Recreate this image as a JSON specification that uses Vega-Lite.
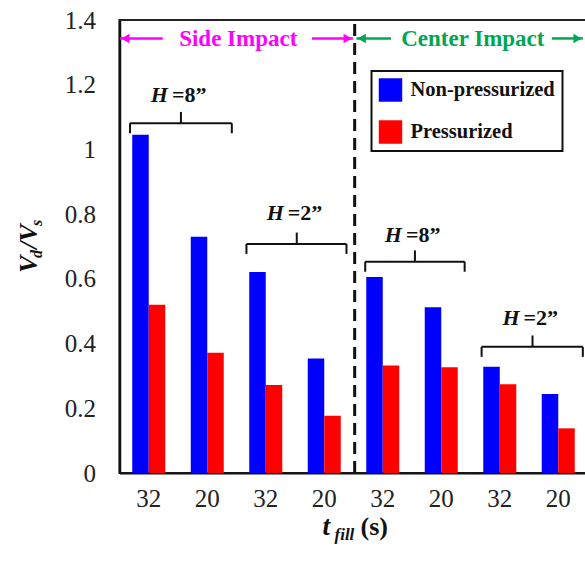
{
  "$schema": "https://vega.github.io/schema/vega-lite/v6.json",
  "width": 468,
  "height": 453,
  "autosize": {"type": "none"},
  "padding": {"left": 119.5, "top": 20, "right": 0, "bottom": 92},
  "background": "white",
  "config": {
    "view": {"stroke": "#222", "strokeWidth": 2},
    "font": "Liberation Serif",
    "legend": {
      "orient": "none",
      "legendX": 252,
      "legendY": 51,
      "direction": "vertical",
      "symbolType": "square",
      "symbolSize": 550,
      "symbolStrokeWidth": 0,
      "symbolOpacity": 1,
      "labelFont": "Liberation Serif",
      "labelFontSize": 20.5,
      "labelFontWeight": "bold",
      "labelColor": "#111",
      "labelOffset": 8,
      "rowPadding": 18,
      "padding": 7,
      "strokeColor": "#111",
      "strokeWidth": 2,
      "fillColor": "white"
    }
  },
  "datasets": {
    "bars": [
      {"grp": "S8-32", "impact": "Side", "H": 8, "tfill": 32, "series": "Non-pressurized", "value": 1.045},
      {"grp": "S8-32", "impact": "Side", "H": 8, "tfill": 32, "series": "Pressurized", "value": 0.52},
      {"grp": "S8-20", "impact": "Side", "H": 8, "tfill": 20, "series": "Non-pressurized", "value": 0.73},
      {"grp": "S8-20", "impact": "Side", "H": 8, "tfill": 20, "series": "Pressurized", "value": 0.372},
      {"grp": "S2-32", "impact": "Side", "H": 2, "tfill": 32, "series": "Non-pressurized", "value": 0.621},
      {"grp": "S2-32", "impact": "Side", "H": 2, "tfill": 32, "series": "Pressurized", "value": 0.272},
      {"grp": "S2-20", "impact": "Side", "H": 2, "tfill": 20, "series": "Non-pressurized", "value": 0.354},
      {"grp": "S2-20", "impact": "Side", "H": 2, "tfill": 20, "series": "Pressurized", "value": 0.177},
      {"grp": "C8-32", "impact": "Center", "H": 8, "tfill": 32, "series": "Non-pressurized", "value": 0.606},
      {"grp": "C8-32", "impact": "Center", "H": 8, "tfill": 32, "series": "Pressurized", "value": 0.332},
      {"grp": "C8-20", "impact": "Center", "H": 8, "tfill": 20, "series": "Non-pressurized", "value": 0.512},
      {"grp": "C8-20", "impact": "Center", "H": 8, "tfill": 20, "series": "Pressurized", "value": 0.327},
      {"grp": "C2-32", "impact": "Center", "H": 2, "tfill": 32, "series": "Non-pressurized", "value": 0.328},
      {"grp": "C2-32", "impact": "Center", "H": 2, "tfill": 32, "series": "Pressurized", "value": 0.274},
      {"grp": "C2-20", "impact": "Center", "H": 2, "tfill": 20, "series": "Non-pressurized", "value": 0.244},
      {"grp": "C2-20", "impact": "Center", "H": 2, "tfill": 20, "series": "Pressurized", "value": 0.138}
    ],
    "braces": [
      {"label": "=8\u201d", "L": 0.68, "R": 2.42, "M": 1.55, "y": 1.081, "yh": 1.05, "yt": 1.116, "ly": 1.168},
      {"label": "=2\u201d", "L": 2.67, "R": 4.38, "M": 3.53, "y": 0.708, "yh": 0.677, "yt": 0.743, "ly": 0.803},
      {"label": "=8\u201d", "L": 4.7, "R": 6.4, "M": 5.55, "y": 0.653, "yh": 0.622, "yt": 0.688, "ly": 0.735},
      {"label": "=2\u201d", "L": 6.69, "R": 8.42, "M": 7.56, "y": 0.39, "yh": 0.359, "yt": 0.425, "ly": 0.478}
    ],
    "arrows": [
      {"impact": "Side", "x1": 0.51, "x2": 1.24, "head": 0.6, "dir": "left"},
      {"impact": "Side", "x1": 3.79, "x2": 4.49, "head": 4.4, "dir": "right"},
      {"impact": "Center", "x1": 4.55, "x2": 5.14, "head": 4.64, "dir": "left"},
      {"impact": "Center", "x1": 7.89, "x2": 8.42, "head": 8.33, "dir": "right"}
    ],
    "impacts": [
      {"impact": "Side", "text": "Side Impact", "tx": 2.53},
      {"impact": "Center", "text": "Center Impact", "tx": 6.54}
    ]
  },
  "resolve": {"scale": {"x": "independent"}},
  "layer": [
    {
      "data": {"name": "bars"},
      "mark": {"type": "bar"},
      "encoding": {
        "x": {
          "field": "grp",
          "type": "nominal",
          "sort": null,
          "scale": {"paddingInner": 0.436, "paddingOuter": 0.218},
          "axis": {
            "title": null,
            "labelExpr": "slice(datum.value, -2)",
            "labelAngle": 0,
            "ticks": false,
            "labelFont": "Liberation Serif",
            "labelFontSize": 25,
            "labelColor": "#222",
            "labelPadding": 13,
            "domainColor": "#111",
            "domainWidth": 2
          }
        },
        "xOffset": {"field": "series", "type": "nominal", "sort": ["Non-pressurized", "Pressurized"]},
        "y": {
          "field": "value",
          "type": "quantitative",
          "title": null,
          "scale": {"domain": [0, 1.4], "nice": false},
          "axis": {
            "title": null,
            "values": [0, 0.2, 0.4, 0.6, 0.8, 1, 1.2, 1.4],
            "format": "~g",
            "ticks": false,
            "grid": false,
            "labelFont": "Liberation Serif",
            "labelFontSize": 25,
            "labelColor": "#222",
            "labelPadding": 24,
            "domainColor": "#111",
            "domainWidth": 2.5
          }
        },
        "color": {
          "field": "series",
          "type": "nominal",
          "scale": {"domain": ["Non-pressurized", "Pressurized"], "range": ["#0000ff", "#ff0000"]},
          "legend": {"title": null}
        }
      }
    },
    {
      "layer": [
        {
          "data": {"values": [{"divider": "Side | Center"}]},
          "mark": {"type": "rule", "strokeDash": [12, 7], "strokeWidth": 3, "color": "#111"},
          "encoding": {
            "x": {"datum": 4.52, "type": "quantitative", "scale": {"domain": [0.5, 8.5]}, "axis": null},
            "y": {"datum": 0, "type": "quantitative", "title": null, "scale": {"domain": [0, 1.4], "nice": false}},
            "y2": {"datum": 1.4}
          }
        },
        {
          "data": {"name": "braces"},
          "mark": {"type": "rule", "strokeWidth": 2, "color": "#111"},
          "encoding": {
            "x": {"field": "L", "type": "quantitative", "scale": {"domain": [0.5, 8.5]}, "axis": null},
            "x2": {"field": "R"},
            "y": {"field": "y", "type": "quantitative", "title": null, "scale": {"domain": [0, 1.4], "nice": false}}
          }
        },
        {
          "data": {"name": "braces"},
          "mark": {"type": "rule", "strokeWidth": 2, "color": "#111"},
          "encoding": {
            "x": {"field": "L", "type": "quantitative", "scale": {"domain": [0.5, 8.5]}, "axis": null},
            "y": {"field": "y", "type": "quantitative", "title": null, "scale": {"domain": [0, 1.4], "nice": false}},
            "y2": {"field": "yh"}
          }
        },
        {
          "data": {"name": "braces"},
          "mark": {"type": "rule", "strokeWidth": 2, "color": "#111"},
          "encoding": {
            "x": {"field": "R", "type": "quantitative", "scale": {"domain": [0.5, 8.5]}, "axis": null},
            "y": {"field": "y", "type": "quantitative", "title": null, "scale": {"domain": [0, 1.4], "nice": false}},
            "y2": {"field": "yh"}
          }
        },
        {
          "data": {"name": "braces"},
          "mark": {"type": "rule", "strokeWidth": 2, "color": "#111"},
          "encoding": {
            "x": {"field": "M", "type": "quantitative", "scale": {"domain": [0.5, 8.5]}, "axis": null},
            "y": {"field": "y", "type": "quantitative", "title": null, "scale": {"domain": [0, 1.4], "nice": false}},
            "y2": {"field": "yt"}
          }
        },
        {
          "data": {"name": "braces"},
          "mark": {"type": "text", "text": "H", "font": "Liberation Serif", "fontSize": 22, "fontWeight": "bold", "fontStyle": "italic", "align": "right", "baseline": "middle", "dx": -13, "color": "#111"},
          "encoding": {
            "x": {"field": "M", "type": "quantitative", "scale": {"domain": [0.5, 8.5]}, "axis": null},
            "y": {"field": "ly", "type": "quantitative", "title": null, "scale": {"domain": [0, 1.4], "nice": false}}
          }
        },
        {
          "data": {"name": "braces"},
          "mark": {"type": "text", "font": "Liberation Serif", "fontSize": 22, "fontWeight": "bold", "align": "left", "baseline": "middle", "dx": -9, "color": "#111"},
          "encoding": {
            "x": {"field": "M", "type": "quantitative", "scale": {"domain": [0.5, 8.5]}, "axis": null},
            "y": {"field": "ly", "type": "quantitative", "title": null, "scale": {"domain": [0, 1.4], "nice": false}},
            "text": {"field": "label"}
          }
        },
        {
          "data": {"name": "arrows"},
          "mark": {"type": "rule", "strokeWidth": 2.5},
          "encoding": {
            "x": {"field": "x1", "type": "quantitative", "scale": {"domain": [0.5, 8.5]}, "axis": null},
            "x2": {"field": "x2"},
            "y": {"datum": 1.343, "type": "quantitative", "title": null, "scale": {"domain": [0, 1.4], "nice": false}},
            "stroke": {"field": "impact", "type": "nominal", "scale": {"domain": ["Side", "Center"], "range": ["#ff00ff", "#00a651"]}, "legend": null}
          }
        },
        {
          "data": {"name": "arrows"},
          "mark": {"type": "point", "filled": true, "size": 90, "opacity": 1, "strokeWidth": 0},
          "encoding": {
            "x": {"field": "head", "type": "quantitative", "scale": {"domain": [0.5, 8.5]}, "axis": null},
            "y": {"datum": 1.343, "type": "quantitative", "title": null, "scale": {"domain": [0, 1.4], "nice": false}},
            "shape": {"field": "dir", "type": "nominal", "scale": {"domain": ["left", "right"], "range": ["triangle-left", "triangle-right"]}, "legend": null},
            "fill": {"field": "impact", "type": "nominal", "scale": {"domain": ["Side", "Center"], "range": ["#ff00ff", "#00a651"]}, "legend": null}
          }
        },
        {
          "data": {"name": "impacts"},
          "mark": {"type": "text", "font": "Liberation Serif", "fontSize": 23, "fontWeight": "bold", "align": "center", "baseline": "middle", "dy": 1},
          "encoding": {
            "x": {"field": "tx", "type": "quantitative", "scale": {"domain": [0.5, 8.5]}, "axis": null},
            "y": {"datum": 1.343, "type": "quantitative", "title": null, "scale": {"domain": [0, 1.4], "nice": false}},
            "text": {"field": "text"},
            "fill": {"field": "impact", "type": "nominal", "scale": {"domain": ["Side", "Center"], "range": ["#ff00ff", "#00a651"]}, "legend": null}
          }
        },
        {
          "data": {"values": [{"title": "y"}]},
          "mark": {"type": "text", "text": "V", "angle": 270, "font": "Liberation Serif", "fontSize": 26, "fontWeight": "bold", "fontStyle": "italic", "align": "left", "baseline": "alphabetic", "color": "#111"},
          "encoding": {
            "x": {"datum": -0.91, "type": "quantitative", "scale": {"domain": [0.5, 8.5]}, "axis": null},
            "y": {"datum": 0.618, "type": "quantitative", "title": null, "scale": {"domain": [0, 1.4], "nice": false}}
          }
        },
        {
          "data": {"values": [{"title": "y"}]},
          "mark": {"type": "text", "text": "d", "angle": 270, "font": "Liberation Serif", "fontSize": 16, "fontWeight": "bold", "fontStyle": "italic", "align": "left", "baseline": "alphabetic", "dx": 15, "dy": 5, "color": "#111"},
          "encoding": {
            "x": {"datum": -0.91, "type": "quantitative", "scale": {"domain": [0.5, 8.5]}, "axis": null},
            "y": {"datum": 0.618, "type": "quantitative", "title": null, "scale": {"domain": [0, 1.4], "nice": false}}
          }
        },
        {
          "data": {"values": [{"title": "y"}]},
          "mark": {"type": "text", "text": "/V", "angle": 270, "font": "Liberation Serif", "fontSize": 26, "fontWeight": "bold", "fontStyle": "italic", "align": "left", "baseline": "alphabetic", "dx": 24, "color": "#111"},
          "encoding": {
            "x": {"datum": -0.91, "type": "quantitative", "scale": {"domain": [0.5, 8.5]}, "axis": null},
            "y": {"datum": 0.618, "type": "quantitative", "title": null, "scale": {"domain": [0, 1.4], "nice": false}}
          }
        },
        {
          "data": {"values": [{"title": "y"}]},
          "mark": {"type": "text", "text": "s", "angle": 270, "font": "Liberation Serif", "fontSize": 16, "fontWeight": "bold", "fontStyle": "italic", "align": "left", "baseline": "alphabetic", "dx": 47, "dy": 5, "color": "#111"},
          "encoding": {
            "x": {"datum": -0.91, "type": "quantitative", "scale": {"domain": [0.5, 8.5]}, "axis": null},
            "y": {"datum": 0.618, "type": "quantitative", "title": null, "scale": {"domain": [0, 1.4], "nice": false}}
          }
        },
        {
          "data": {"values": [{"title": "x"}]},
          "mark": {"type": "text", "text": "t", "font": "Liberation Serif", "fontSize": 27, "fontWeight": "bold", "fontStyle": "italic", "align": "left", "baseline": "alphabetic", "color": "#111"},
          "encoding": {
            "x": {"datum": 3.97, "type": "quantitative", "scale": {"domain": [0.5, 8.5]}, "axis": null},
            "y": {"datum": -0.192, "type": "quantitative", "title": null, "scale": {"domain": [0, 1.4], "nice": false}}
          }
        },
        {
          "data": {"values": [{"title": "x"}]},
          "mark": {"type": "text", "text": "fill", "font": "Liberation Serif", "fontSize": 17, "fontWeight": "bold", "fontStyle": "italic", "align": "left", "baseline": "alphabetic", "dx": 12, "dy": 5, "color": "#111"},
          "encoding": {
            "x": {"datum": 3.97, "type": "quantitative", "scale": {"domain": [0.5, 8.5]}, "axis": null},
            "y": {"datum": -0.192, "type": "quantitative", "title": null, "scale": {"domain": [0, 1.4], "nice": false}}
          }
        },
        {
          "data": {"values": [{"title": "x"}]},
          "mark": {"type": "text", "text": "(s)", "font": "Liberation Serif", "fontSize": 26, "fontWeight": "bold", "align": "left", "baseline": "alphabetic", "dx": 38, "color": "#111"},
          "encoding": {
            "x": {"datum": 3.97, "type": "quantitative", "scale": {"domain": [0.5, 8.5]}, "axis": null},
            "y": {"datum": -0.192, "type": "quantitative", "title": null, "scale": {"domain": [0, 1.4], "nice": false}}
          }
        }
      ]
    }
  ]
}
